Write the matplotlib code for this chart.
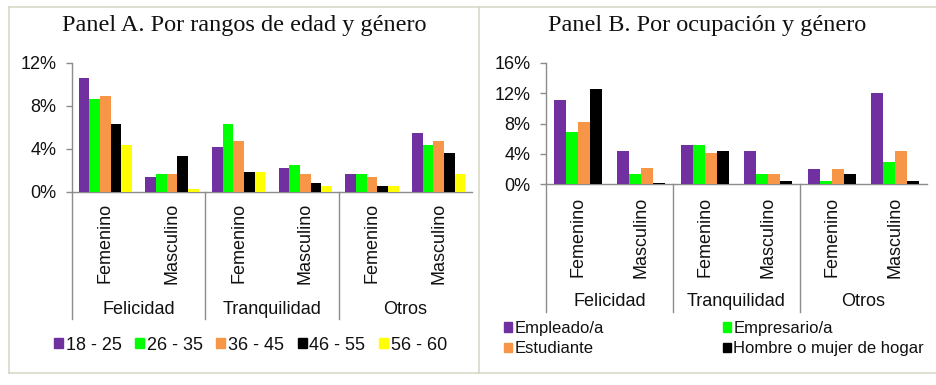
import matplotlib
matplotlib.use("Agg")
import matplotlib.pyplot as plt
from matplotlib.lines import Line2D
from matplotlib.patches import Patch
from matplotlib.transforms import blended_transform_factory

# ---- data (percent) --------------------------------------------------------
emotions = ["Felicidad", "Tranquilidad", "Otros"]
genders = ["Femenino", "Masculino"]

age_groups = ["18 - 25", "26 - 35", "36 - 45", "46 - 55", "56 - 60"]
# order of each list: Fel-Fem, Fel-Masc, Tra-Fem, Tra-Masc, Otr-Fem, Otr-Masc
age_18_25 = [10.6, 1.4, 4.2, 2.2, 1.7, 5.5]
age_26_35 = [8.6, 1.7, 6.3, 2.5, 1.7, 4.4]
age_36_45 = [8.9, 1.7, 4.7, 1.7, 1.4, 4.7]
age_46_55 = [6.3, 3.3, 1.9, 0.8, 0.6, 3.6]
age_56_60 = [4.4, 0.3, 1.9, 0.6, 0.6, 1.7]

occupations = ["Empleado/a", "Empresario/a", "Estudiante", "Hombre o mujer de hogar"]
occ_empleado = [11.1, 4.4, 5.2, 4.4, 2.0, 12.0]
occ_empresario = [6.9, 1.4, 5.2, 1.4, 0.5, 3.0]
occ_estudiante = [8.2, 2.1, 4.1, 1.4, 2.0, 4.4]
occ_hogar = [12.5, 0.2, 4.4, 0.5, 1.4, 0.5]

age_ticks = [0, 4, 8, 12]
occ_ticks = [0, 4, 8, 12, 16]

# ---- style -------------------------------------------------------------------
PURPLE = "#7030A0"; GREEN = "#00FF00"; ORANGE = "#F79646"
BLACK = "#000000"; YELLOW = "#FFFF00"
AXIS = "#8C8C8C"; BORDER = "#D8D8C8"; INK = "#111111"

W, H = 936, 385
SANS = ["Liberation Sans", "Arial", "DejaVu Sans"]
SERIF = ["Liberation Serif", "Times New Roman", "DejaVu Serif"]

plt.rcParams.update({
    "font.family": "sans-serif",
    "font.sans-serif": SANS,
    "text.color": INK,
})


def fx(px):
    return px / W


def fy(py):
    return 1 - py / H


def panel(fig, left, right, base, top, ymax, ticks, series, colors, width,
          line_bottom, label_top, group_y):
    ax = fig.add_axes([fx(left), fy(base), fx(right - left), (base - top) / H])
    n = len(series)
    for k, (vals, c) in enumerate(zip(series, colors)):
        xs = [i + 0.5 + (k - (n - 1) / 2) * width for i in range(len(vals))]
        ax.bar(xs, vals, width=width, color=c, linewidth=0, zorder=3)
    ax.set_xlim(0, 6)
    ax.set_ylim(0, ymax)
    ax.set_yticks(ticks)
    ax.set_yticklabels(["%d%%" % t for t in ticks])
    ax.set_xticks([])
    for s in ("top", "right"):
        ax.spines[s].set_visible(False)
    for s in ("left", "bottom"):
        ax.spines[s].set_color(AXIS)
        ax.spines[s].set_linewidth(1.0)
    ax.tick_params(axis="y", colors=AXIS, labelcolor=INK, labelsize=13,
                   length=4, width=1.0, pad=7)

    # category axis: left rule + group separators running down through labels
    tr = blended_transform_factory(ax.transData, fig.transFigure)
    for x in (0, 2, 4):
        ax.add_line(Line2D([x, x], [fy(base), fy(line_bottom)], transform=tr,
                           color=AXIS, lw=1.0, clip_on=False))
    for i in range(6):
        ax.text(i + 0.5, fy(label_top), genders[i % 2], transform=tr,
                rotation=90, ha="center", va="top", fontsize=13)
    for j, name in enumerate(emotions):
        ax.text(2 * j + 1, fy(group_y), name, transform=tr,
                ha="center", va="center", fontsize=13)
    return ax


fig = plt.figure(figsize=(W / 100, H / 100), dpi=100)

# panel frames
for xs, ys in [((9, W), (7, 7)), ((9, W), (373, 373)),
               ((9, 9), (7, 373)), ((479, 479), (7, 373))]:
    fig.add_artist(Line2D([fx(x) for x in xs], [fy(y) for y in ys],
                          color=BORDER, lw=1.2))

age_colors = [PURPLE, GREEN, ORANGE, BLACK, YELLOW]
axA = panel(fig, 72, 472, 192, 62.7, 12, age_ticks,
            [age_18_25, age_26_35, age_36_45, age_46_55, age_56_60],
            age_colors, 0.16, 319, 203, 309)

occ_colors = [PURPLE, GREEN, ORANGE, BLACK]
axB = panel(fig, 546, 927, 184.3, 62.7, 16, occ_ticks,
            [occ_empleado, occ_empresario, occ_estudiante, occ_hogar],
            occ_colors, 0.19, 312, 197, 301)

fig.text(fx(62), fy(31), "Panel A. Por rangos de edad y género",
         family=SERIF, fontsize=17.5, ha="left", va="baseline")
fig.text(fx(548), fy(31), "Panel B. Por ocupación y género",
         family=SERIF, fontsize=17.5, ha="left", va="baseline")

# legends
hA = [Patch(color=c, label=l) for c, l in zip(age_colors, age_groups)]
fig.legend(handles=hA, loc="center left", bbox_to_anchor=(fx(54), fy(345)),
           ncol=5, frameon=False, fontsize=13, handlelength=0.5,
           handleheight=0.5, handletextpad=0.15, columnspacing=0.75,
           borderpad=0, borderaxespad=0)

order = [0, 2, 1, 3]
hB = [Patch(color=occ_colors[i], label=occupations[i]) for i in order]
fig.legend(handles=hB, loc="center left", bbox_to_anchor=(fx(504), fy(338.5)),
           ncol=2, frameon=False, fontsize=12, handlelength=0.5,
           handleheight=0.5, handletextpad=0.15, columnspacing=7.1,
           labelspacing=0.33, borderpad=0, borderaxespad=0)

fig.savefig("out.png", dpi=100)
